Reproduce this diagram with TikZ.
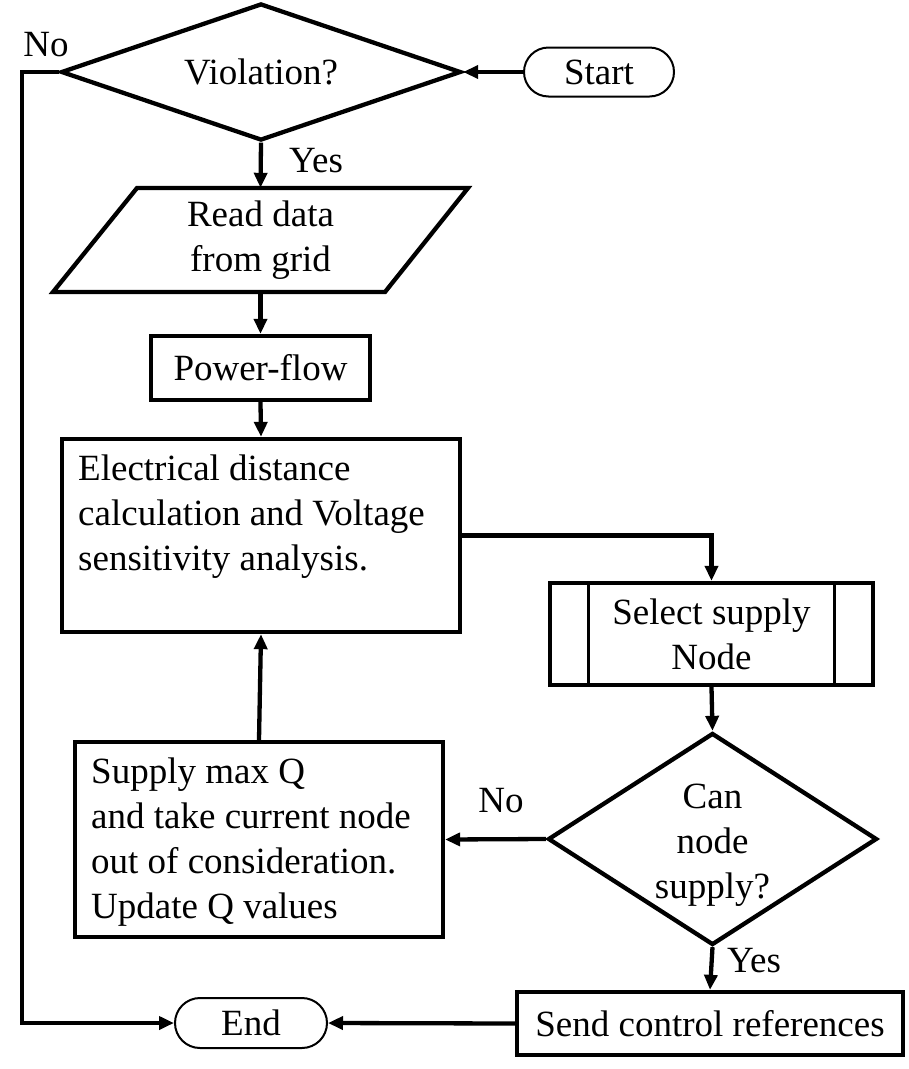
\documentclass[tikz,border=0pt]{standalone}
\usepackage{fontspec}
\setmainfont{Liberation Serif}
\usetikzlibrary{arrows.meta,shapes.geometric,shapes.misc,calc}
\begin{document}
\begin{tikzpicture}[x=1pt,y=-1pt,
  every node/.style={font=\fontsize{37}{45}\selectfont, inner sep=0pt},
  box/.style={draw, line width=4.3pt, rectangle},
  dia/.style={draw, line width=4.3pt, diamond},
  term/.style={draw, line width=2pt, rounded rectangle},
  conn/.style={line width=4.3pt, -{Triangle[length=15pt,width=13pt]}}]
\useasboundingbox[fill=white] (0,0) rectangle (909,1069);

% shapes
\node[dia, minimum width=400pt, minimum height=137pt] (viol) at (261,72) {};
\node (violtxt) at (viol) {Violation?};
\node[term, minimum width=150pt, minimum height=49pt] (start) at (599,72) {Start};

\node[minimum width=415pt, minimum height=104pt] (read) at (260.5,240) {};
\draw[line width=4.3pt, line join=miter] (137,188) -- (468,188) -- (385,292) -- (53,292) -- cycle;
\node[align=center] (readtxt) at (read) {Read data\\from grid};

\node[box, minimum width=219pt, minimum height=64pt] (pf) at (260.5,368) {Power-flow};

\node[box, minimum width=398pt, minimum height=193pt] (elec) at (261,535.5) {};
\node[align=left, anchor=base west] (electxt) at (78,570) {Electrical distance\\calculation and Voltage\\sensitivity analysis.};

\node[box, minimum width=323pt, minimum height=102pt] (sel) at (711.5,634) {};
\draw[line width=3pt] ($(sel.north west)+(41,2)$) -- ($(sel.south west)+(41,-2)$);
\draw[line width=3pt] ($(sel.north east)+(-41,2)$) -- ($(sel.south east)+(-41,-2)$);
\node[align=center] (seltxt) at (sel) {Select supply\\Node};

\node[dia, minimum width=329pt, minimum height=212pt] (can) at (712.5,839) {};
\node[align=center] (cantxt) at (712.5,845) {Can\\node\\supply?};

\node[box, minimum width=368pt, minimum height=195pt] (sup) at (259,839.5) {};
\node[align=left, anchor=base west] (suptxt) at (91,918) {Supply max Q\\and take current node\\out of consideration.\\Update Q values};

\node[box, minimum width=386pt, minimum height=63pt] (send) at (710,1023.5) {Send control references};
\node[term, minimum width=152pt, minimum height=50pt] (end) at (251,1023) {End};

% connectors
\coordinate (nocorner) at (22,72);
\draw[conn] (start.west) -- (viol.east);
\draw[conn] (viol.west) -- (nocorner) |- (end.west);
\draw[conn] (viol.south) -- (read.north);
\draw[conn] (read.south) -- (pf.north);
\draw[conn] (pf.south) -- (elec.north);
\draw[conn] (elec.east) -| (sel.north);
\draw[conn] (sel.south) -- (can.north);
\draw[conn] (can.west) -- (sup.east);
\draw[conn] (sup.north) -- (elec.south);
\draw[conn] (can.south) -- (send.north);
\draw[conn] (send.west) -- (end.east);

% labels
\node (lno1) at (46,45) {No};
\node (lyes1) at (316,161) {Yes};
\node (lno2) at (501,801) {No};
\node (lyes2) at (754,961) {Yes};
\end{tikzpicture}
\end{document}
